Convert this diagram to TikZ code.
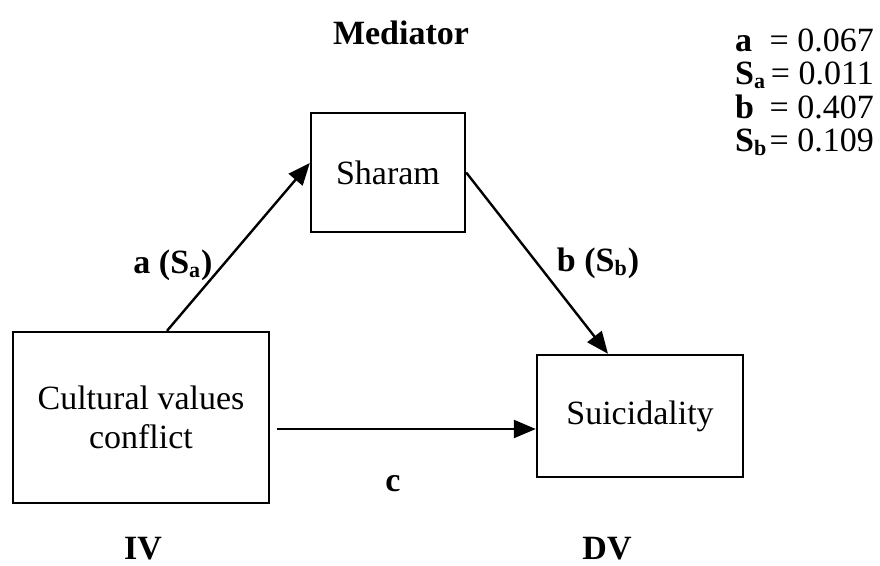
\documentclass[tikz,border=0pt]{standalone}
\usepackage{fontspec}
\setmainfont{Liberation Serif}
\usetikzlibrary{arrows.meta}
\newcommand{\sbs}[1]{\raisebox{-0.28ex}{\fontsize{22}{22}\selectfont #1}\kern1pt}
\begin{document}
\begin{tikzpicture}[x=1pt,y=-1pt,
  box/.style={draw,line width=2.4pt,inner sep=0pt,align=center,font=\fontsize{34}{39}\selectfont},
  lab/.style={inner sep=0pt,anchor=base,font=\fontsize{34}{39}\selectfont\bfseries},
  txt/.style={inner sep=0pt,anchor=base east,font=\fontsize{34}{39}\selectfont},
  arr/.style={line width=2.4pt,-{Triangle[length=22pt,width=18pt]}}]
\useasboundingbox (0,0) rectangle (880,565);
\node[box,minimum width=256pt,minimum height=171pt] (iv) at (141,417.5) {Cultural values\\conflict};
\node[box,minimum width=154pt,minimum height=119pt] (med) at (388,172.5) {Sharam};
\node[box,minimum width=206pt,minimum height=122pt] (dv) at (640,416) {Suicidality};
\draw[arr] ([xshift=26pt]iv.north) -- ([yshift=9.5pt]med.west);
\draw[arr] ([yshift=0pt]med.east) -- ([xshift=-32pt]dv.north);
\draw[arr] ([xshift=7pt,yshift=-11.5pt]iv.east) -- ([yshift=-13pt]dv.west);
\node[lab] (ml) at (401,44) {Mediator};
\node[lab] (al) at (173,273) {a (S\sbs{a})};
\node[lab] (bl) at (598,271) {b (S\sbs{b})};
\node[lab] (cl) at (393,491) {c};
\node[lab] (ivl) at (143,559) {IV};
\node[lab] (dvl) at (607,559) {DV};
\node[lab,anchor=base west] (s1) at (735,51) {a};
\node[lab,anchor=base west] (s2) at (735,84) {S\sbs{a}};
\node[lab,anchor=base west] (s3) at (735,118) {b};
\node[lab,anchor=base west] (s4) at (735,151) {S\sbs{b}};
\node[txt] (v1) at (874,51) {= 0.067};
\node[txt] (v2) at (874,84) {= 0.011};
\node[txt] (v3) at (874,118) {= 0.407};
\node[txt] (v4) at (874,151) {= 0.109};
\end{tikzpicture}
\end{document}
